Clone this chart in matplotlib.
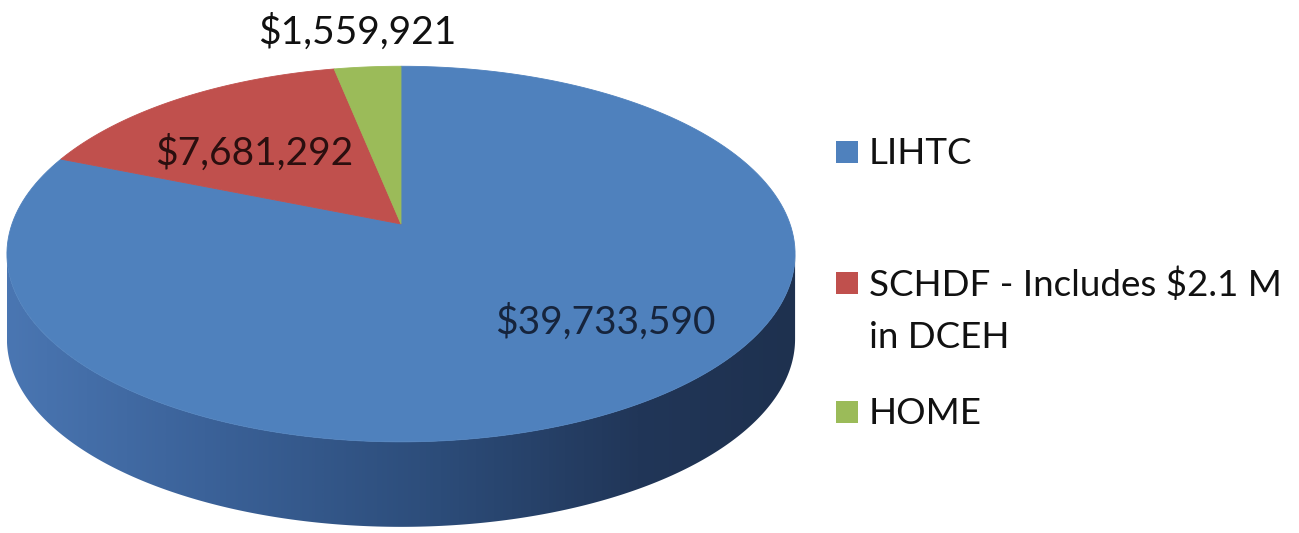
import numpy as np
import matplotlib
matplotlib.use("Agg")
import matplotlib.pyplot as plt
from matplotlib.patches import Polygon, Rectangle
from matplotlib.colors import LinearSegmentedColormap

# ─── Data ─────────────────────────────────────────────────────────────────────
programs = ["LIHTC", "SCHDF - Includes $2.1 M\nin DCEH", "HOME"]
amounts = [39733590, 7681292, 1559921]
slice_colors = ["#4f81bd", "#c0504d", "#9bbb59"]
label_colors = ["#16243c", "#2b0f0f", "#111111"]

# ─── Canvas (pixel coordinates, y down) ──────────────────────────────────────
W, H = 1299, 533
fig = plt.figure(figsize=(W / 100, H / 100), dpi=100)
ax = fig.add_axes([0, 0, 1, 1])
ax.set_xlim(0, W)
ax.set_ylim(H, 0)
ax.axis("off")

FONT = "Lato"

# Tilted disc seen in perspective: centre, half axes, foreshortening, thickness
CX, CY = 401, 224
A, B, K = 389, 183, -0.16
DEPTH = 85


def project(phi, r=1.0):
    """phi measured clockwise from 12 o'clock, in radians."""
    x = r * np.sin(phi)
    y = -r * np.cos(phi)
    d = 1 + K * y
    return CX + A * x / d, CY + B * y / d


# ─── Side wall (front half of the rim) ───────────────────────────────────────
phi_l = np.arccos(K)            # rightmost silhouette point
phi_r = 2 * np.pi - phi_l       # leftmost silhouette point
arc = np.linspace(phi_l, phi_r, 300)
ux, uy = project(arc)
side = np.concatenate([np.c_[ux, uy], np.c_[ux[::-1], uy[::-1] + DEPTH]])
side_patch = Polygon(side, closed=True, facecolor="none", edgecolor="none")
ax.add_patch(side_patch)

side_cmap = LinearSegmentedColormap.from_list(
    "rim", [(0.0, "#4a76b2"), (0.25, "#3b6299"), (0.55, "#2c4c79"),
            (0.8, "#213658"), (1.0, "#1e314f")])
grad = np.linspace(0, 1, 512)[None, :]
im = ax.imshow(grad, cmap=side_cmap, aspect="auto",
               extent=[ux.min(), ux.max(), uy.max() + DEPTH, uy.min()],
               zorder=1, interpolation="bilinear")
im.set_clip_path(side_patch)

# ─── Top face wedges ─────────────────────────────────────────────────────────
fractions = np.array(amounts, dtype=float) / sum(amounts)
edges = np.concatenate([[0], np.cumsum(fractions)]) * 2 * np.pi
for i, col in enumerate(slice_colors):
    t = np.linspace(edges[i], edges[i + 1], 200)
    px, py = project(t)
    pts = np.vstack([[CX, CY], np.c_[px, py]])
    ax.add_patch(Polygon(pts, closed=True, facecolor=col, edgecolor=col,
                         linewidth=0.6, zorder=2))

# ─── Value labels ────────────────────────────────────────────────────────────
label_xy = [(605, 322), (254, 153), (357, 32)]
for amt, (lx, ly), c in zip(amounts, label_xy, label_colors):
    ax.text(lx, ly, f"${amt:,}", ha="center", va="center", fontsize=28,
            family=FONT, color=c, zorder=4)

# ─── Legend ──────────────────────────────────────────────────────────────────
legend_y = [152, 283, 412]
for name, col, ly in zip(programs, slice_colors, legend_y):
    ax.add_patch(Rectangle((836, ly - 11), 22, 22, facecolor=col,
                           edgecolor="none", zorder=3))
    ax.text(869, ly - 15, name, ha="left", va="top", fontsize=26.5,
            family=FONT, color="#111111", linespacing=1.7, zorder=4)

fig.savefig("out.png", dpi=100, facecolor="white")
